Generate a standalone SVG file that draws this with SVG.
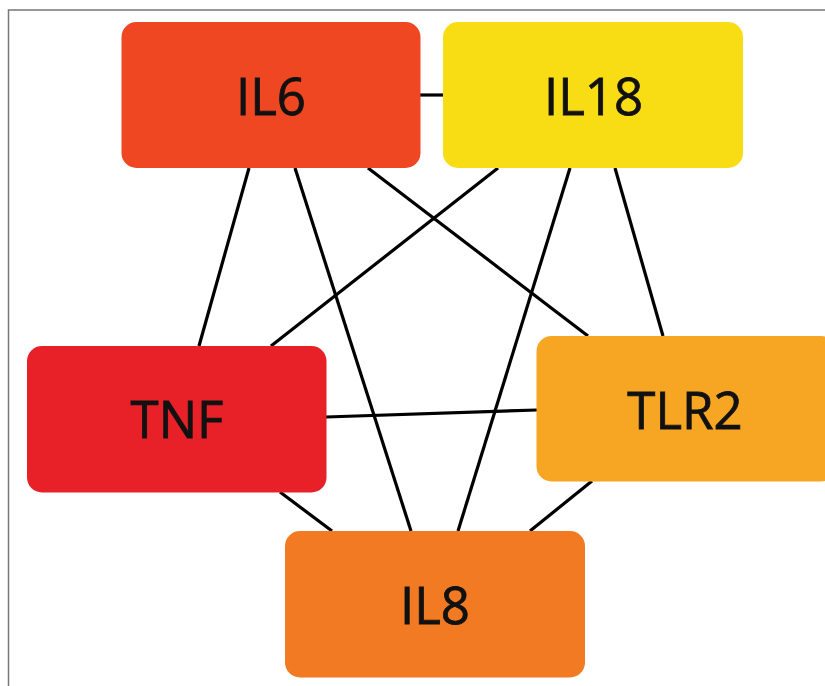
<svg xmlns="http://www.w3.org/2000/svg" width="825" height="686" viewBox="0 0 825 686">
<style>
.frame{stroke:#777;stroke-width:1.5;fill:none}
.edge{stroke:#000;stroke-width:3.2;fill:none;stroke-linecap:butt}
.lbl{font-family:"Open Sans","Liberation Sans",sans-serif;font-size:51px;fill:#111;stroke:#111;stroke-width:0.8;text-anchor:middle}
</style>
<rect x="0" y="0" width="825" height="686" fill="#fff"/>
<path class="frame" d="M8.5,686 V10 H825"/>
<g id="connectors">
<line class="edge" x1="420" y1="95" x2="443" y2="95"/>
<line class="edge" x1="249" y1="168" x2="199" y2="346"/>
<line class="edge" x1="295" y1="168" x2="411" y2="531"/>
<line class="edge" x1="368" y1="168" x2="588" y2="336"/>
<line class="edge" x1="498" y1="168" x2="271" y2="346"/>
<line class="edge" x1="570" y1="168" x2="458" y2="531"/>
<line class="edge" x1="615" y1="168" x2="663" y2="336"/>
<line class="edge" x1="326" y1="417" x2="537" y2="410"/>
<line class="edge" x1="280" y1="492" x2="332" y2="531"/>
<line class="edge" x1="592" y1="481" x2="530" y2="531"/>
</g>
<g id="IL6">
<rect x="121.5" y="22" width="299" height="146" rx="15" fill="#EE4722"/>
<text class="lbl" x="271" y="115">IL6</text>
</g>
<g id="IL18">
<rect x="443" y="22" width="300" height="146" rx="15" fill="#F8DC14"/>
<text class="lbl" x="593.5" y="115">IL18</text>
</g>
<g id="TNF">
<rect x="27" y="346" width="299.5" height="146.5" rx="15" fill="#E82128"/>
<text class="lbl" x="177" y="437.5">TNF</text>
</g>
<g id="TLR2">
<rect x="536.5" y="336" width="300" height="145.5" rx="15" fill="#F6A623"/>
<text class="lbl" x="685" y="428.5">TLR2</text>
</g>
<g id="IL8">
<rect x="285" y="531" width="300" height="146.5" rx="15" fill="#F27A22"/>
<text class="lbl" x="435" y="624">IL8</text>
</g>
</svg>
